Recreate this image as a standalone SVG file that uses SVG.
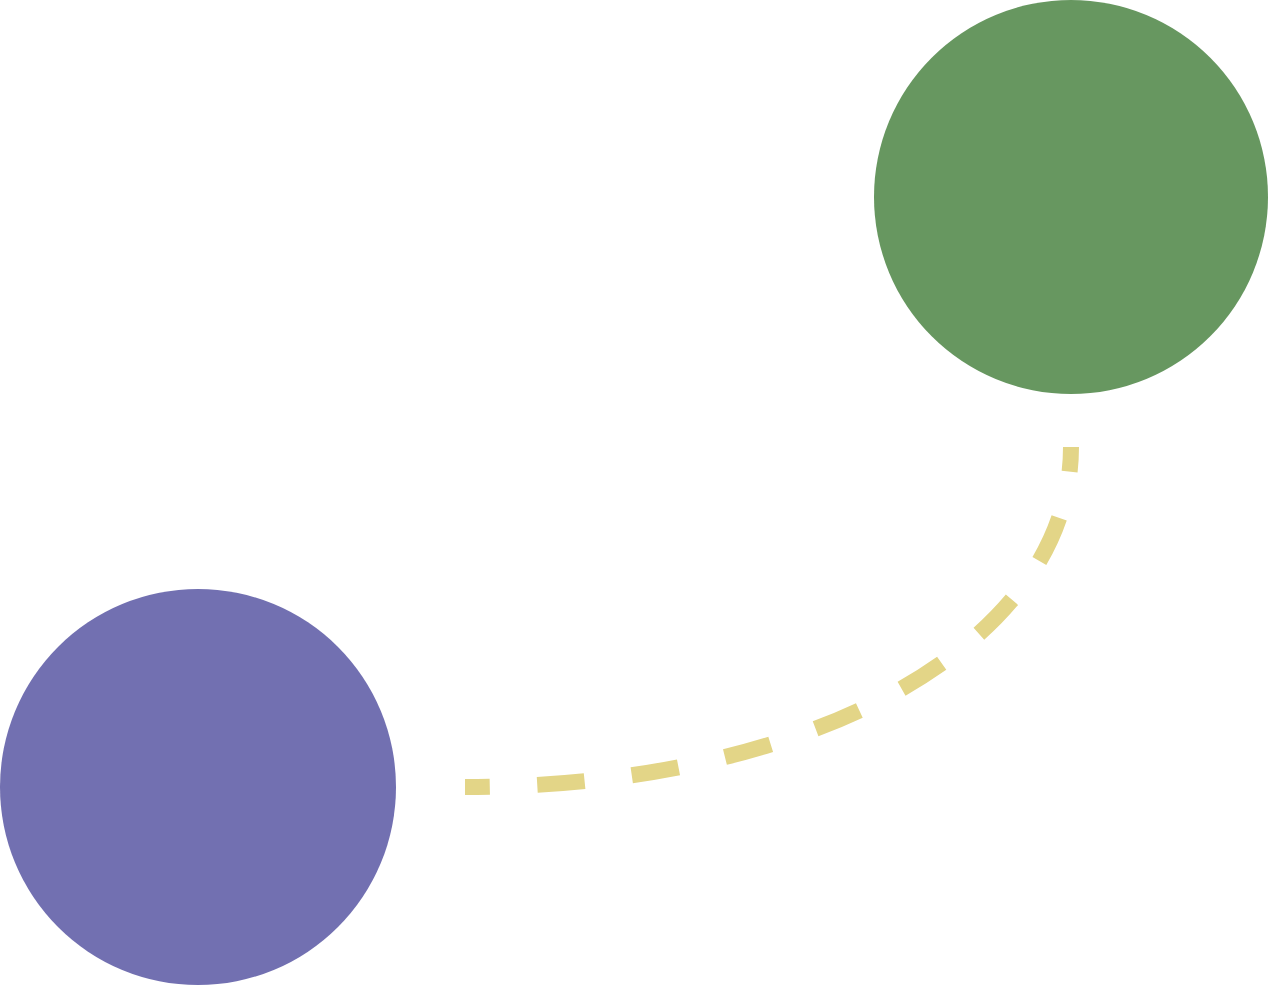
<svg xmlns="http://www.w3.org/2000/svg" width="1269" height="986" viewBox="0 0 1269 986">
<style>
.connector{fill:none;stroke:#e3d587;stroke-width:16;stroke-dasharray:48 48;stroke-dashoffset:23}
.green{fill:#679760}
.purple{fill:#7270b1}
</style>
<rect width="1269" height="986" fill="#ffffff"/>
<g id="node-green">
<circle class="green" cx="1071" cy="197" r="197"/>
</g>
<g id="node-purple">
<circle class="purple" cx="198" cy="787" r="198"/>
</g>
<g id="connectors">
<path class="connector" pathLength="770" d="M1071,447 C1071,642.5 813.5,787 465,787"/>
</g>
</svg>
